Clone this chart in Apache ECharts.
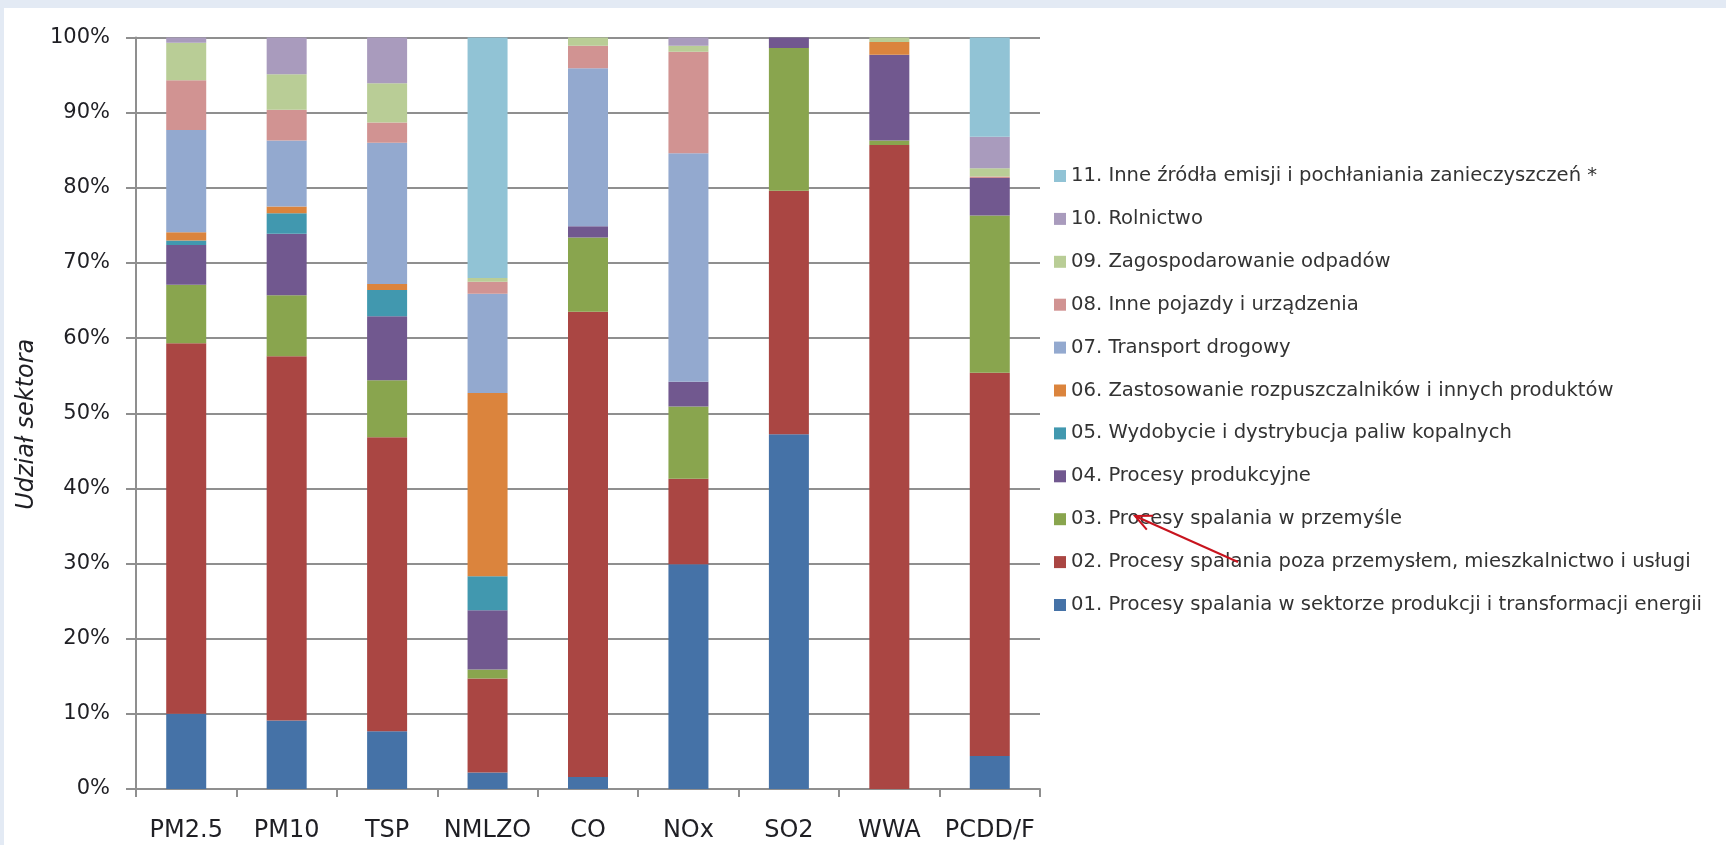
<!DOCTYPE html>
<html lang="pl">
<head>
<meta charset="utf-8">
<title>Udział sektorów w emisji zanieczyszczeń</title>
<script src="https://cdn.jsdelivr.net/npm/echarts@6/dist/echarts.min.js"></script>
<style>
  html, body { margin: 0; padding: 0; width: 1726px; height: 845px; background: #e3eaf4; overflow: hidden; }
  #chart { position: absolute; left: 4px; top: 8px; width: 1722px; height: 837px; background: #ffffff; }
</style>
</head>
<body>
<div id="chart"></div>
<script>
// Pollutants on the category axis
const categories = ['PM2.5', 'PM10', 'TSP', 'NMLZO', 'CO', 'NOx', 'SO2', 'WWA', 'PCDD/F'];

// Sector names (SNAP groups)
const sectorNames = [
  '01. Procesy spalania w sektorze produkcji i transformacji energii',
  '02. Procesy spalania poza przemysłem, mieszkalnictwo i usługi',
  '03. Procesy spalania w przemyśle',
  '04. Procesy produkcyjne',
  '05. Wydobycie i dystrybucja paliw kopalnych',
  '06. Zastosowanie rozpuszczalników i innych produktów',
  '07. Transport drogowy',
  '08. Inne pojazdy i urządzenia',
  '09. Zagospodarowanie odpadów',
  '10. Rolnictwo',
  '11. Inne źródła emisji i pochłaniania zanieczyszczeń *'
];

// Share of each sector in total emission [%], one value per pollutant
const s01 = [10.0,  9.1,  7.7,  2.2,  1.6, 29.9, 47.2,  0.0,  4.4];
const s02 = [49.3, 48.5, 39.1, 12.5, 61.9, 11.4, 32.4, 85.7, 51.0];
const s03 = [ 7.8,  8.1,  7.6,  1.2,  9.9,  9.6, 19.0,  0.6, 20.9];
const s04 = [ 5.3,  8.2,  8.5,  7.9,  1.5,  3.3,  1.4, 11.4,  5.0];
const s05 = [ 0.6,  2.7,  3.5,  4.5,  0.0,  0.0,  0.0,  0.0,  0.0];
const s06 = [ 1.1,  0.9,  0.8, 24.4,  0.0,  0.0,  0.0,  1.7,  0.0];
const s07 = [13.6,  8.8, 18.8, 13.2, 21.0, 30.4,  0.0,  0.0,  0.0];
const s08 = [ 6.6,  4.1,  2.7,  1.6,  3.0, 13.5,  0.0,  0.0,  0.2];
const s09 = [ 5.0,  4.7,  5.2,  0.5,  1.1,  0.8,  0.0,  0.6,  1.1];
const s10 = [ 0.7,  4.9,  6.1,  0.0,  0.0,  1.1,  0.0,  0.0,  4.2];
const s11 = [ 0.0,  0.0,  0.0, 32.0,  0.0,  0.0,  0.0,  0.0, 13.2];

const sectorValues = [s01, s02, s03, s04, s05, s06, s07, s08, s09, s10, s11];

const sectorColors = [
  '#4572a7', '#aa4643', '#89a54e', '#71588f', '#4198af', '#db843d',
  '#93a9cf', '#d19392', '#b9cd96', '#a99bbd', '#91c3d5'
];

// Value axis ticks
const yTicks = { min: 0, max: 100, interval: 10 };

const chart = echarts.init(document.getElementById('chart'), null, { renderer: 'canvas' });

const series = sectorNames.map((name, i) => ({
  name: name,
  type: 'bar',
  stack: 'total',
  barWidth: 40,
  data: sectorValues[i],
  itemStyle: { color: sectorColors[i] },
  emphasis: { disabled: true }
}));

// Red pointer arrow next to the legend (tail -> tip)
const arrowTail = [1234, 554];
const arrowTip = [1131, 508];
function arrowHead(tip, tail, len, angleDeg) {
  const dx = tail[0] - tip[0], dy = tail[1] - tip[1];
  const d = Math.hypot(dx, dy);
  const ux = dx / d, uy = dy / d;
  const a = angleDeg * Math.PI / 180;
  const rot = (s) => [
    tip[0] + len * (ux * Math.cos(s * a) - uy * Math.sin(s * a)),
    tip[1] + len * (ux * Math.sin(s * a) + uy * Math.cos(s * a))
  ];
  return [rot(1), tip, rot(-1)];
}

const grayLine = '#8f8f8f';

chart.setOption({
  animation: false,
  backgroundColor: '#ffffff',
  grid: { left: 132, right: 686, top: 29.5, bottom: 56, containLabel: false },
  xAxis: {
    type: 'category',
    data: categories,
    boundaryGap: true,
    axisLine: { show: true, lineStyle: { color: grayLine, width: 2 } },
    axisTick: { show: true, length: 8, lineStyle: { color: grayLine, width: 2 } },
    axisLabel: {
      interval: 0,
      margin: 30,
      color: '#1f1f24',
      fontFamily: 'DejaVu Sans',
      fontSize: 24
    },
    splitLine: { show: false }
  },
  yAxis: {
    type: 'value',
    min: yTicks.min,
    max: yTicks.max,
    interval: yTicks.interval,
    name: 'Udział sektora',
    nameLocation: 'middle',
    nameGap: 78,
    nameRotate: 90,
    nameTextStyle: {
      color: '#1f1f24',
      fontFamily: 'DejaVu Sans',
      fontStyle: 'italic',
      fontSize: 24,
      padding: [0, 22, 0, 0]
    },
    axisLine: { show: true, lineStyle: { color: grayLine, width: 2 } },
    axisTick: { show: true, length: 10, lineStyle: { color: grayLine, width: 2 } },
    axisLabel: {
      formatter: '{value}%',
      margin: 26,
      color: '#1f1f24',
      fontFamily: 'DejaVu Sans',
      fontSize: 21
    },
    splitLine: { show: true, lineStyle: { color: grayLine, width: 2 } }
  },
  legend: {
    orient: 'vertical',
    left: 1045,
    top: 153,
    data: sectorNames.slice().reverse(),
    itemWidth: 12,
    itemHeight: 12,
    itemGap: 22.9,
    icon: 'rect',
    selectedMode: false,
    textStyle: {
      color: '#333333',
      fontFamily: 'DejaVu Sans',
      fontSize: 19.6,
      lineHeight: 20,
      padding: [0, 0, 0, 0]
    }
  },
  graphic: [
    {
      type: 'polyline',
      shape: { points: [arrowTail, arrowTip] },
      style: { stroke: '#c8141e', lineWidth: 2, fill: null },
      z: 100
    },
    {
      type: 'polyline',
      shape: { points: arrowHead(arrowTip, arrowTail, 18, 25) },
      style: { stroke: '#c8141e', lineWidth: 2, fill: null },
      z: 100
    }
  ],
  series: series
});
</script>
</body>
</html>
